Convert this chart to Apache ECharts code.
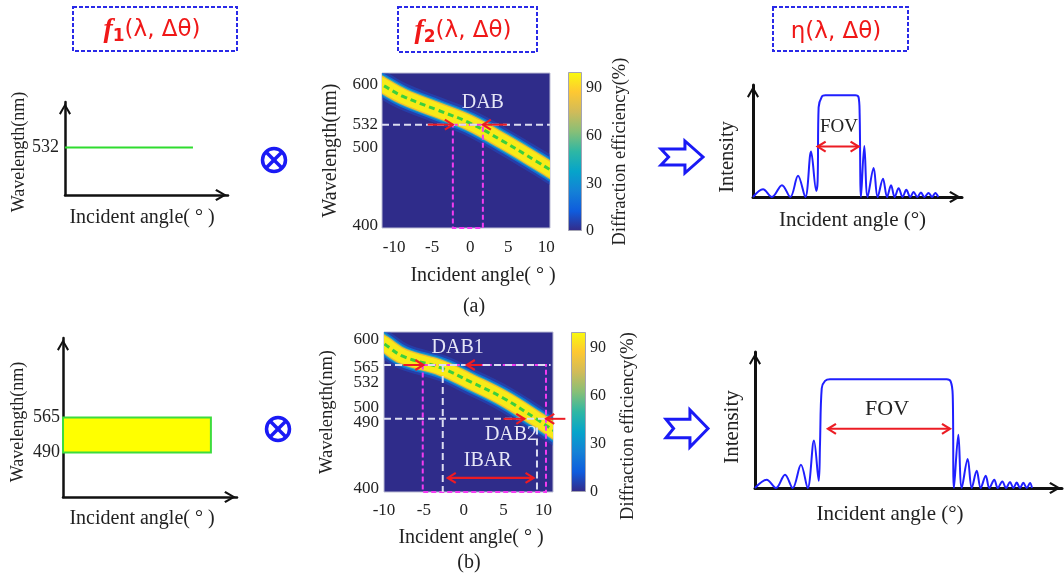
<!DOCTYPE html>
<html>
<head>
<meta charset="utf-8">
<script src="https://cdn.jsdelivr.net/npm/echarts@6.0.0/dist/echarts.min.js"></script>
<style>
  html, body { margin: 0; padding: 0; background: #fff; }
  #chart { width: 1064px; height: 579px; }
</style>
</head>
<body>
<div id="chart"></div>
<script>
// ---------- data ----------
// f1 : incident light. (a) one wavelength, (b) a band of wavelengths
const f1LineA = [[-10, 532], [5.7, 532]]
const f1RectB = [[-10, 490, 7, 565]]          // [angle0, nm0, angle1, nm1]
const f1TicksA = [532]
const f1TicksB = [490, 565]

// f2 : centre of the high efficiency stripe, [angle (deg), wavelength (nm)]
const stripeA = [[-12.5, 592], [-11.6, 586.9], [-8.83, 570.8], [-4.43, 552.6], [-0.04, 534.3],
  [4.35, 509], [8.75, 481.5], [10.5, 470.1], [11.5, 463.6]]
const stripeB = [[-11, 601.9], [-10, 594.6], [-7.57, 576.9], [-2.75, 560.6], [0.81, 541.9],
  [4.99, 518.7], [9.19, 489.3], [11.2, 474.3], [12.2, 466.8]]

const mapTicksA = [400, 500, 532, 600]
const mapTicksB = [400, 490, 500, 532, 565, 600]
const angleTicks = [-10, -5, 0, 5, 10]
const effTicks = [0, 30, 60, 90]
const effMax = [100]

// marks on the maps, [angle1, nm1, angle2, nm2]
const guidesA = [[-11.6, 532, 10.5, 532]]
const dabBoxA = [[-2.28, 390, 1.67, 532]]
const dabArrowsA = [[-5.58, 532, -2.28, 532], [4.83, 532, 1.67, 532]]
const labelsA = ['DAB']
const labelPosA = [[1.66, 562]]

const guidesB = [[-10, 565, 10.9, 565], [-10, 490, 10.3, 490], [-2.63, 565, -2.63, 388], [9.19, 478, 9.19, 388]]
const ibarBoxB = [[-5.14, 388, 10.32, 565]]
const dabArrowsB = [[-7.57, 565, -5.06, 565], [2.28, 565, 0.39, 565], [4.99, 490, 7.6, 490], [12.75, 490, 10.35, 490]]
const ibarArrowB = [[-2.0, 407.6, 8.76, 407.6]]
const labelsB = ['DAB1', 'DAB2', 'IBAR']
const labelPosB = [[-0.76, 589.7], [5.93, 468.4], [3.0, 431.2]]

// eta : normalised intensity against angle
const etaA = [[-9, 0], [-7.97, 0.076], [-7.05, 0], [-6.02, 0.116], [-5.16, 0], [-4.37, 0.208], [-3.62, 0],
  [-3.03, 0.446], [-2.49, 0.06], [-2.35, 0.16], [-2.25, 0.88], [-1.9, 0.99], [-1.56, 1.0], [1.52, 1.0],
  [1.86, 0.98], [1.97, 0.82], [2.11, 0], [2.45, 0.5], [2.79, 0], [3.41, 0.284], [3.82, 0], [4.37, 0.18],
  [4.79, 0], [5.2, 0.116], [5.57, 0], [5.98, 0.086], [6.39, 0], [6.77, 0.07], [7.18, 0], [7.52, 0.05],
  [7.9, 0], [8.28, 0.043], [8.62, 0], [9.07, 0.04], [9.42, 0], [9.75, 0.04], [10.06, 0]]
const etaB = [[-13.6, 0], [-12.4, 0.076], [-11.44, 0], [-10.51, 0.122], [-9.72, 0], [-8.87, 0.214], [-8.18, 0],
  [-7.53, 0.437], [-7.04, 0.067], [-6.91, 0.4], [-6.73, 0.917], [-6.39, 0.984], [-5.88, 1.0], [6.13, 1.0],
  [6.54, 0.98], [6.75, 0.856], [6.88, 0], [7.33, 0.489], [7.68, 0], [8.29, 0.266], [8.71, 0], [9.22, 0.159],
  [9.63, 0], [10.15, 0.113], [10.52, 0], [11.03, 0.076], [11.38, 0], [11.86, 0.06], [12.24, 0], [12.65, 0.055],
  [12.99, 0], [13.34, 0.05], [13.68, 0], [14.02, 0.048], [14.37, 0], [14.71, 0.045], [14.91, 0]]
const fovA = [[-2.35, 0.495, 1.86, 0.495]]
const fovPosA = [[-0.16, 0.686]]
const fovB = [[-6.09, 0.544, 6.47, 0.544]]
const fovPosB = [[-0.01, 0.728]]

// ---------- styles ----------
const SERIF = 'Liberation Serif'
const NAVY = '#2f2c8a'
const RED = '#ec1c24'
const PARULA = [[0, '#352a87'], [0.125, '#0f5cdd'], [0.25, '#1481d6'], [0.375, '#06a4ca'], [0.5, '#2eb7a4'],
  [0.625, '#87bf77'], [0.75, '#d1bb59'], [0.875, '#fec832'], [1, '#f9fb0e']]
const stripeLayers = [
  { width: 26, color: 'rgba(25,90,215,0.4)' },
  { width: 21, color: 'rgba(10,135,225,0.75)' },
  { width: 18, color: '#2aa8b8' },
  { width: 16, color: '#efba35' },
  { width: 13.5, color: '#f8ea18' },
  { width: 3, color: '#3ccf3c', dash: [6, 4] },
]
const ARROW = 'path://M0,12 L7,0 L14,12 L12,13.5 L7,4.5 L2,13.5 Z'

// the schematic axes label positions are spread a little in the original figure
const labelNudge = {
  up: { padding: [0, 0, 12, 0] }, upS: { padding: [0, 0, 9, 0] },
  dn: { padding: [8, 0, 0, 0] }, dnS: { padding: [6, 0, 0, 0] },
  dnM: { padding: [10, 0, 0, 0] }, dnL: { padding: [18, 0, 0, 0] },
}
const nudgeA = { 600: 'dnL', 400: 'dnM' }
const nudgeB = { 565: 'dnS', 532: 'up', 500: 'upS', 490: 'dn', 400: 'dnM' }
function nudged(map) {
  return function (v) { return map[v] ? '{' + map[v] + '|' + v + '}' : String(v) }
}

function arrowLine(w) {
  return { show: true, onZero: false, lineStyle: { color: '#111', width: w }, symbol: ['none', ARROW], symbolSize: [12, 14], symbolOffset: [0, -7] }
}
function nameStyle(size, padding) {
  return { fontFamily: SERIF, fontSize: size, color: '#222', padding: padding || 0 }
}
const tickStyle = { fontFamily: SERIF, color: '#222' }

// plain axis for the schematic panels
function schemeAxis(gi, min, max, extra) {
  return Object.assign({
    gridIndex: gi, type: 'value', min: min, max: max, axisLine: arrowLine(2.5),
    axisTick: { show: false }, axisLabel: { show: false }, splitLine: { show: false },
    nameLocation: 'middle', nameMoveOverlap: false,
  }, extra)
}
function mapAxis(gi, min, max, extra) {
  return Object.assign({
    gridIndex: gi, type: 'value', min: min, max: max, axisLine: { show: false, onZero: false },
    axisTick: { show: false }, splitLine: { show: false },
    nameLocation: 'middle', nameMoveOverlap: false,
  }, extra)
}

// ---------- helpers for marks drawn in data coordinates ----------
function head(tip, from) {
  const dx = tip[0] - from[0], dy = tip[1] - from[1]
  const len = Math.hypot(dx, dy) || 1
  const ux = dx / len, uy = dy / len
  const L = 8, W = 10
  const bx = tip[0] - ux * L, by = tip[1] - uy * L
  const nx = -uy * W / 2, ny = ux * W / 2
  return { type: 'polyline', shape: { points: [[bx + nx, by + ny], [tip[0], tip[1]], [bx - nx, by - ny]] },
    style: { stroke: RED, lineWidth: 2.2, fill: 'none' } }
}
function segSeries(gi, rows, st) {
  return {
    type: 'custom', xAxisIndex: gi, yAxisIndex: gi, data: rows, clip: false, silent: true, z: st.z || 5,
    encode: { x: [0, 2], y: [1, 3] },
    renderItem: function (params, api) {
      const a = api.coord([api.value(0), api.value(1)])
      const b = api.coord([api.value(2), api.value(3)])
      const kids = [{ type: 'line', shape: { x1: a[0], y1: a[1], x2: b[0], y2: b[1] },
        style: { stroke: st.color, lineWidth: st.width, lineDash: st.dash || null } }]
      if (st.heads) {
        kids.push(head(b, a))
        if (st.heads === 'both') kids.push(head(a, b))
      }
      return { type: 'group', children: kids }
    },
  }
}
function rectSeries(gi, rows, st) {
  return {
    type: 'custom', xAxisIndex: gi, yAxisIndex: gi, data: rows, clip: false, silent: true, z: st.z || 4,
    encode: { x: [0, 2], y: [1, 3] },
    renderItem: function (params, api) {
      const a = api.coord([api.value(0), api.value(1)])
      const b = api.coord([api.value(2), api.value(3)])
      return { type: 'rect',
        shape: { x: Math.min(a[0], b[0]), y: Math.min(a[1], b[1]), width: Math.abs(b[0] - a[0]), height: Math.abs(b[1] - a[1]) },
        style: { fill: st.fill || 'none', stroke: st.stroke, lineWidth: st.width, lineDash: st.dash || null } }
    },
  }
}
function textSeries(gi, pos, texts, st) {
  return {
    type: 'custom', xAxisIndex: gi, yAxisIndex: gi, data: pos, clip: false, silent: true, z: 6,
    renderItem: function (params, api) {
      const p = api.coord([api.value(0), api.value(1)])
      return { type: 'text', x: p[0], y: p[1],
        style: { text: texts[params.dataIndex], fill: st.color, fontFamily: SERIF, fontSize: st.size, align: 'center', verticalAlign: 'middle' } }
    },
  }
}
// the stripe is drawn once, as stacked smooth polylines, clipped to the map
function stripeSeries(gi, pts) {
  return {
    type: 'custom', xAxisIndex: gi, yAxisIndex: gi, data: pts, clip: true, silent: true, z: 2,
    renderItem: function (params, api) {
      if (params.dataIndex !== 0) return null
      const px = pts.map(function (p) { return api.coord(p) })
      return { type: 'group', children: stripeLayers.map(function (ly) {
        return { type: 'polyline', shape: { points: px, smooth: 0.4 },
          style: { stroke: ly.color, lineWidth: ly.width, lineDash: ly.dash || null, fill: 'none', lineCap: 'butt' } }
      }) }
    },
  }
}
function colorbarSeries(gi) {
  return { type: 'bar', xAxisIndex: gi, yAxisIndex: gi, data: effMax, barWidth: '100%', silent: true,
    itemStyle: { color: new echarts.graphic.LinearGradient(0, 1, 0, 0, PARULA.map(s => ({ offset: s[0], color: s[1] }))),
      borderColor: '#a4a4b4', borderWidth: 1 } }
}

// ---------- decoration (titles, operators) ----------
function titleBox(x, y, w, h) {
  return { type: 'rect', shape: { x: x, y: y, width: w, height: h },
    style: { fill: 'none', stroke: '#2a2ae8', lineWidth: 2, lineDash: [4, 2] } }
}
const titleRich = {
  f: { fontFamily: SERIF, fontStyle: 'italic', fontWeight: 'bold', fontSize: 28, fill: '#f01818', lineHeight: 30 },
  s: { fontFamily: 'DejaVu Sans', fontWeight: 'bold', fontSize: 17, fill: '#f01818', verticalAlign: 'bottom', lineHeight: 16 },
  p: { fontFamily: 'DejaVu Sans', fontSize: 23, fill: '#f01818', lineHeight: 30 },
}
function titleText(x, y, t) {
  return { type: 'text', x: x, y: y, style: { text: t, rich: titleRich, align: 'center', verticalAlign: 'middle' } }
}
function otimes(cx, cy) {
  const d = 8.2
  return [
    { type: 'circle', shape: { cx: cx, cy: cy, r: 11.5 }, style: { fill: 'none', stroke: '#1a1af5', lineWidth: 3.5 } },
    { type: 'line', shape: { x1: cx - d, y1: cy - d, x2: cx + d, y2: cy + d }, style: { stroke: '#1a1af5', lineWidth: 3.5 } },
    { type: 'line', shape: { x1: cx - d, y1: cy + d, x2: cx + d, y2: cy - d }, style: { stroke: '#1a1af5', lineWidth: 3.5 } },
  ]
}
function hollowArrow(x, y, w, h) {
  const pts = [[x, y + 0.25 * h], [x + 0.57 * w, y + 0.25 * h], [x + 0.57 * w, y], [x + w, y + 0.5 * h],
    [x + 0.57 * w, y + h], [x + 0.57 * w, y + 0.75 * h], [x, y + 0.75 * h], [x + 0.18 * w, y + 0.5 * h]]
  return { type: 'polygon', shape: { points: pts }, style: { fill: '#fff', stroke: '#1a1af5', lineWidth: 3 } }
}
function plainText(x, y, t) {
  return { type: 'text', x: x, y: y, style: { text: t, fontFamily: SERIF, fontSize: 20, fill: '#222', align: 'center', verticalAlign: 'middle' } }
}

const chart = echarts.init(document.getElementById('chart'))
chart.setOption({
  animation: false,
  backgroundColor: '#fff',
  grid: [
    { left: 65, top: 102, width: 163, height: 93, outerBoundsMode: 'none' },                 // 0 f1 (a)
    { left: 382, top: 73, width: 168, height: 155, show: true, backgroundColor: NAVY,
      borderColor: '#bcbcd4', borderWidth: 1, outerBoundsMode: 'none' },                      // 1 f2 (a)
    { left: 568, top: 72, width: 14, height: 159, outerBoundsMode: 'none' },                  // 2 colorbar (a)
    { left: 753, top: 85, width: 209, height: 112, outerBoundsMode: 'none' },                 // 3 eta (a)
    { left: 63, top: 338, width: 174, height: 159, outerBoundsMode: 'none' },                 // 4 f1 (b)
    { left: 384, top: 332, width: 169, height: 160, show: true, backgroundColor: NAVY,
      borderColor: '#bcbcd4', borderWidth: 1, outerBoundsMode: 'none' },                      // 5 f2 (b)
    { left: 571, top: 332, width: 15, height: 160, outerBoundsMode: 'none' },                 // 6 colorbar (b)
    { left: 755, top: 352, width: 307, height: 136, outerBoundsMode: 'none' },                // 7 eta (b)
  ],
  xAxis: [
    schemeAxis(0, -10, 10, { name: 'Incident angle( ° )', nameGap: 13, nameTextStyle: nameStyle(20, [0, 9, 0, 0]) }),
    mapAxis(1, -11.6, 10.5, { axisLabel: Object.assign({ customValues: angleTicks, fontSize: 17, margin: 11 }, tickStyle),
      name: 'Incident angle( ° )', nameGap: 38, nameTextStyle: nameStyle(20, [0, 0, 0, 34]) }),
    { gridIndex: 2, type: 'category', data: [''], show: false },
    schemeAxis(3, -9, 12.5, { axisLine: arrowLine(3), name: 'Incident angle (°)', nameGap: 13, nameTextStyle: nameStyle(21, [0, 10, 0, 0]) }),
    schemeAxis(4, -10, 10, { name: 'Incident angle( ° )', nameGap: 12, nameTextStyle: nameStyle(20, [0, 16, 0, 0]) }),
    mapAxis(5, -10, 11.2, { axisLabel: Object.assign({ customValues: angleTicks, fontSize: 17, margin: 10 }, tickStyle),
      name: 'Incident angle( ° )', nameGap: 36, nameTextStyle: nameStyle(20, [0, 0, 0, 5]) }),
    { gridIndex: 6, type: 'category', data: [''], show: false },
    schemeAxis(7, -13.6, 18, { axisLine: arrowLine(3), name: 'Incident angle (°)', nameGap: 16, nameTextStyle: nameStyle(21, [0, 37, 0, 0]) }),
  ],
  yAxis: [
    schemeAxis(0, 440, 620, { axisLabel: Object.assign({ show: true, customValues: f1TicksA, fontSize: 18, margin: 6 }, tickStyle),
      name: 'Wavelength(nm)', nameRotate: 90, nameGap: 37, nameTextStyle: nameStyle(18, [0, 7, 0, 0]) }),
    mapAxis(1, 390, 603, { axisLabel: Object.assign({ customValues: mapTicksA, fontSize: 17, margin: 4,
      formatter: nudged(nudgeA), rich: labelNudge }, tickStyle),
      name: 'Wavelength(nm)', nameRotate: 90, nameGap: 41, nameTextStyle: nameStyle(20) }),
    mapAxis(2, 0, 100, { position: 'right', axisLabel: Object.assign({ customValues: effTicks, fontSize: 16, margin: 4 }, tickStyle),
      name: 'Diffraction efficiency(%)', nameRotate: 90, nameGap: 29, nameTextStyle: nameStyle(18.5) }),
    schemeAxis(3, 0, 1.1, { axisLine: arrowLine(3), name: 'Intensity', nameRotate: 90, nameGap: 15, nameTextStyle: nameStyle(20.5, [0, 32, 0, 0]) }),
    schemeAxis(4, 395, 735, { axisLabel: Object.assign({ show: true, customValues: f1TicksB, fontSize: 18, margin: 3 }, tickStyle),
      name: 'Wavelength(nm)', nameRotate: 90, nameGap: 36, nameTextStyle: nameStyle(18, [0, 9, 0, 0]) }),
    mapAxis(5, 388, 611, { axisLabel: Object.assign({ customValues: mapTicksB, fontSize: 17, margin: 5,
      formatter: nudged(nudgeB), rich: labelNudge }, tickStyle),
      name: 'Wavelength(nm)', nameRotate: 90, nameGap: 47, nameTextStyle: nameStyle(18.5) }),
    mapAxis(6, 0, 100, { position: 'right', axisLabel: Object.assign({ customValues: effTicks, fontSize: 16, margin: 4 }, tickStyle),
      name: 'Diffraction efficiency(%)', nameRotate: 90, nameGap: 33, nameTextStyle: nameStyle(18.5, [0, 28, 0, 0]) }),
    schemeAxis(7, 0, 1.25, { axisLine: arrowLine(3), name: 'Intensity', nameRotate: 90, nameGap: 12, nameTextStyle: nameStyle(21, [0, 14, 0, 0]) }),
  ],
  series: [
    // row (a)
    { type: 'line', xAxisIndex: 0, yAxisIndex: 0, data: f1LineA, showSymbol: false, silent: true,
      lineStyle: { color: '#2fdc2f', width: 2 } },
    stripeSeries(1, stripeA),
    segSeries(1, guidesA, { color: '#dcdcf0', width: 2, dash: [7, 4] }),
    rectSeries(1, dabBoxA, { stroke: '#f23cf0', width: 2, dash: [5, 3] }),
    segSeries(1, dabArrowsA, { color: RED, width: 2, heads: 'end' }),
    textSeries(1, labelPosA, labelsA, { color: '#e6e6f6', size: 20 }),
    colorbarSeries(2),
    { type: 'line', xAxisIndex: 3, yAxisIndex: 3, data: etaA, smooth: 0.35, showSymbol: false, silent: true, clip: true,
      lineStyle: { color: '#1f1fff', width: 2 } },
    segSeries(3, fovA, { color: RED, width: 2, heads: 'both' }),
    textSeries(3, fovPosA, ['FOV'], { color: '#222', size: 19 }),
    // row (b)
    rectSeries(4, f1RectB, { fill: '#ffff00', stroke: '#3ddc3d', width: 2 }),
    stripeSeries(5, stripeB),
    segSeries(5, guidesB, { color: '#dcdcf0', width: 2, dash: [7, 4] }),
    rectSeries(5, ibarBoxB, { stroke: '#f23cf0', width: 2, dash: [5, 3] }),
    segSeries(5, dabArrowsB, { color: RED, width: 2, heads: 'end' }),
    segSeries(5, ibarArrowB, { color: RED, width: 2.2, heads: 'both' }),
    textSeries(5, labelPosB, labelsB, { color: '#e6e6f6', size: 20 }),
    colorbarSeries(6),
    { type: 'line', xAxisIndex: 7, yAxisIndex: 7, data: etaB, smooth: 0.35, showSymbol: false, silent: true, clip: true,
      lineStyle: { color: '#1f1fff', width: 2 } },
    segSeries(7, fovB, { color: RED, width: 2, heads: 'both' }),
    textSeries(7, fovPosB, ['FOV'], { color: '#222', size: 22 }),
  ],
  graphic: [
    titleBox(73, 7, 164, 44), titleBox(398, 7, 139, 45), titleBox(773, 7, 135, 44),
    titleText(152, 30, '{f|f}{s|1}{p|(λ, Δθ)}'),
    titleText(463, 31, '{f|f}{s|2}{p|(λ, Δθ)}'),
    titleText(836, 32, '{p|η(λ, Δθ)}'),
    ...otimes(274, 160), ...otimes(278, 429),
    hollowArrow(661, 141, 42, 32), hollowArrow(666, 410, 42, 37),
    plainText(474, 307, '(a)'), plainText(469, 563, '(b)'),
  ],
})
</script>
</body>
</html>
